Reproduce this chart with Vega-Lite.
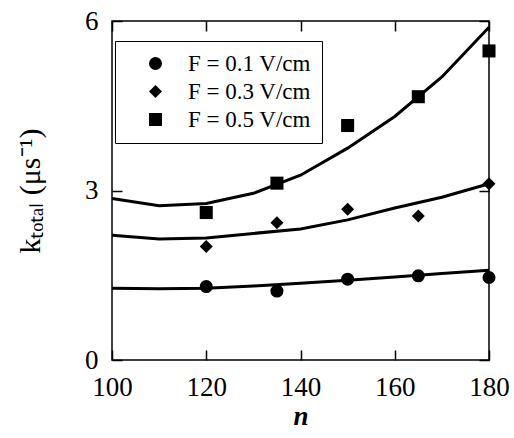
{
  "$schema": "https://vega.github.io/schema/vega-lite/v6.json",
  "width": 377,
  "height": 339,
  "autosize": "none",
  "padding": {"left": 112, "top": 21, "right": 25, "bottom": 78},
  "background": "white",
  "view": {"stroke": "black", "strokeWidth": 1.5},
  "config": {
    "font": "'Liberation Serif', 'Times New Roman', serif",
    "legend": {"labelFont": "'Liberation Serif', 'Times New Roman', serif"}
  },
  "datasets": {
    "curves": [
      {"F": "F = 0.1 V/cm", "n": 100, "k": 1.27}, {"F": "F = 0.1 V/cm", "n": 110, "k": 1.26}, {"F": "F = 0.1 V/cm", "n": 120, "k": 1.27}, {"F": "F = 0.1 V/cm", "n": 130, "k": 1.31}, {"F": "F = 0.1 V/cm", "n": 140, "k": 1.36}, {"F": "F = 0.1 V/cm", "n": 150, "k": 1.41}, {"F": "F = 0.1 V/cm", "n": 160, "k": 1.47}, {"F": "F = 0.1 V/cm", "n": 170, "k": 1.53}, {"F": "F = 0.1 V/cm", "n": 180, "k": 1.59},
      {"F": "F = 0.3 V/cm", "n": 100, "k": 2.21}, {"F": "F = 0.3 V/cm", "n": 110, "k": 2.14}, {"F": "F = 0.3 V/cm", "n": 120, "k": 2.16}, {"F": "F = 0.3 V/cm", "n": 130, "k": 2.24}, {"F": "F = 0.3 V/cm", "n": 140, "k": 2.32}, {"F": "F = 0.3 V/cm", "n": 150, "k": 2.48}, {"F": "F = 0.3 V/cm", "n": 160, "k": 2.69}, {"F": "F = 0.3 V/cm", "n": 170, "k": 2.88}, {"F": "F = 0.3 V/cm", "n": 180, "k": 3.12},
      {"F": "F = 0.5 V/cm", "n": 100, "k": 2.86}, {"F": "F = 0.5 V/cm", "n": 110, "k": 2.73}, {"F": "F = 0.5 V/cm", "n": 120, "k": 2.77}, {"F": "F = 0.5 V/cm", "n": 130, "k": 2.95}, {"F": "F = 0.5 V/cm", "n": 140, "k": 3.27}, {"F": "F = 0.5 V/cm", "n": 150, "k": 3.75}, {"F": "F = 0.5 V/cm", "n": 160, "k": 4.31}, {"F": "F = 0.5 V/cm", "n": 170, "k": 5.01}, {"F": "F = 0.5 V/cm", "n": 180, "k": 5.89}
    ],
    "points": [
      {"F": "F = 0.1 V/cm", "n": 120, "k": 1.30}, {"F": "F = 0.1 V/cm", "n": 135, "k": 1.22}, {"F": "F = 0.1 V/cm", "n": 150, "k": 1.43}, {"F": "F = 0.1 V/cm", "n": 165, "k": 1.49}, {"F": "F = 0.1 V/cm", "n": 180, "k": 1.46},
      {"F": "F = 0.3 V/cm", "n": 120, "k": 2.01}, {"F": "F = 0.3 V/cm", "n": 135, "k": 2.43}, {"F": "F = 0.3 V/cm", "n": 150, "k": 2.67}, {"F": "F = 0.3 V/cm", "n": 165, "k": 2.55}, {"F": "F = 0.3 V/cm", "n": 180, "k": 3.12},
      {"F": "F = 0.5 V/cm", "n": 120, "k": 2.61}, {"F": "F = 0.5 V/cm", "n": 135, "k": 3.13}, {"F": "F = 0.5 V/cm", "n": 150, "k": 4.15}, {"F": "F = 0.5 V/cm", "n": 165, "k": 4.66}, {"F": "F = 0.5 V/cm", "n": 180, "k": 5.47}
    ]
  },
  "resolve": {"axis": {"x": "independent", "y": "independent"}},
  "layer": [
    {
      "data": {"name": "curves"},
      "mark": {"type": "line", "color": "black", "strokeWidth": 3, "interpolate": "linear"},
      "encoding": {
        "x": {"field": "n", "type": "quantitative", "scale": {"domain": [100, 180], "nice": false, "zero": false},
          "axis": {"orient": "bottom", "zindex": 1, "values": [100, 120, 140, 160, 180], "grid": false, "domain": false, "ticks": true, "tickColor": "black", "tickWidth": 1.5, "tickSize": 10, "offset": -10, "labelPadding": 14, "labelFlush": false, "labelFont": "'Liberation Serif', 'Times New Roman', serif", "labelFontSize": 27, "labelColor": "black", "title": "n", "titleFont": "'Liberation Serif', 'Times New Roman', serif", "titleFontSize": 27, "titleColor": "black", "titleFontStyle": "italic", "titleFontWeight": "bold", "titlePadding": 3}},
        "y": {"field": "k", "type": "quantitative", "scale": {"domain": [0, 6], "nice": false},
          "axis": {"orient": "left", "zindex": 1, "values": [0, 3, 6], "grid": false, "domain": false, "ticks": true, "tickColor": "black", "tickWidth": 1.5, "tickSize": 10, "offset": -10, "labelPadding": 14, "labelFont": "'Liberation Serif', 'Times New Roman', serif", "labelFontSize": 27, "labelColor": "black", "title": "kₜₒₜₐₗ (μs⁻¹)", "titleFont": "'Liberation Serif', 'Times New Roman', serif", "titleFontSize": 30, "titleColor": "black", "titleFontWeight": "normal", "titlePadding": 39}},
        "detail": {"field": "F"}
      }
    },
    {
      "data": {"name": "points"},
      "mark": {"type": "point", "filled": true, "color": "black", "opacity": 1, "size": 170},
      "encoding": {
        "x": {"field": "n", "type": "quantitative", "scale": {"domain": [100, 180], "nice": false, "zero": false},
          "axis": {"orient": "top", "zindex": 1, "values": [100, 120, 140, 160, 180], "grid": false, "domain": false, "ticks": true, "tickColor": "black", "tickWidth": 1.5, "tickSize": 10, "offset": -10, "labels": false, "title": null}},
        "y": {"field": "k", "type": "quantitative", "scale": {"domain": [0, 6], "nice": false},
          "axis": {"orient": "right", "zindex": 1, "values": [0, 3, 6], "grid": false, "domain": false, "ticks": true, "tickColor": "black", "tickWidth": 1.5, "tickSize": 10, "offset": -10, "labels": false, "title": null}},
        "shape": {"field": "F", "type": "nominal", "scale": {"domain": ["F = 0.1 V/cm", "F = 0.3 V/cm", "F = 0.5 V/cm"], "range": ["circle", "diamond", "square"]},
          "legend": {"title": null, "orient": "none", "legendX": 3, "legendY": 20, "strokeColor": "black", "padding": 11, "labelFontSize": 23, "labelColor": "black", "symbolSize": 170, "symbolFillColor": "black", "symbolStrokeColor": "black", "symbolOffset": 18, "labelOffset": 21, "rowPadding": 4, "labelLimit": 300,
            "encode": {"legend": {"update": {"strokeWidth": {"value": 2.5}}}}}}
      }
    }
  ]
}
